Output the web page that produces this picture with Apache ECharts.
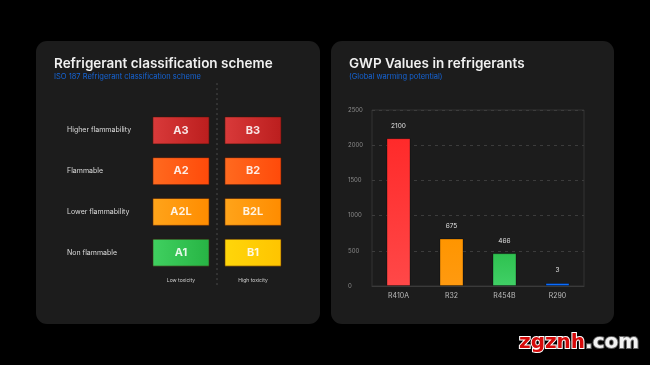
<!DOCTYPE html>
<html><head><meta charset="utf-8">
<script src="https://cdn.jsdelivr.net/npm/echarts@6/dist/echarts.min.js"></script>
<style>html,body{margin:0;padding:0;background:#000}#c{width:650px;height:365px}</style>
</head><body><div id="c"></div>
<script>
// ---- data ----
const toxicityCats = ['Low toxicity', 'High toxicity'];
const flammabilityCats = ['Non flammable', 'Lower flammability', 'Flammable', 'Higher flammability'];
const classLow = ['A1', 'A2L', 'A2', 'A3'];
const classHigh = ['B1', 'B2L', 'B2', 'B3'];
const refrigerants = ['R410A', 'R32', 'R454B', 'R290'];
const gwpValues = [2100, 675, 466, 3];
const gwpTicks = [0, 500, 1000, 1500, 2000, 2500];

// ---- styles ----
const cellColors = {
  A3: ['#d93a3a', '#bb1e1e'], B3: ['#d93a3a', '#bb1e1e'],
  A2: ['#ff6a1f', '#ff4a0a'], B2: ['#ff6a1f', '#ff4a0a'],
  A2L: ['#ffa41a', '#ff8c00'], B2L: ['#ffa41a', '#ff8c00'],
  A1: ['#40d060', '#27b444'], B1: ['#ffd60a', '#ffc400']
};
const barColors = [['#ff2a2a', '#ff4848'], ['#ff9500', '#ff9a10'], ['#2fc150', '#40d066'], ['#0a6cff', '#0a6cff']];

const cellData = [];
classLow.forEach((c, i) => cellData.push([0, i, c]));
classHigh.forEach((c, i) => cellData.push([1, i, c]));

const lg = (c) => new echarts.graphic.LinearGradient(0, 0, 1, 0, [{offset: 0, color: c[0]}, {offset: 1, color: c[1]}]);
const vg = (c) => new echarts.graphic.LinearGradient(0, 0, 0, 1, [{offset: 0, color: c[0]}, {offset: 1, color: c[1]}]);

const chart = echarts.init(document.getElementById('c'), null, {renderer: 'canvas'});
const FONT = 'Inter, "Noto Sans", sans-serif';

chart.setOption({
  backgroundColor: '#000',
  animation: false,
  textStyle: {fontFamily: FONT},
  graphic: [
    {type: 'rect', z: -10, shape: {x: 36, y: 41, width: 284, height: 283, r: 11}, style: {fill: '#1c1c1c'}},
    {type: 'rect', z: -10, shape: {x: 331, y: 41, width: 283, height: 283, r: 11}, style: {fill: '#1c1c1c'}},
    {type: 'text', z: 10, left: 518, top: 332, style: {
      text: '{a|zgznh}{b|.com}', font: '900 20px "DejaVu Sans", sans-serif',
      rich: {
        a: {fill: '#d60a0a', stroke: '#ffffff', lineWidth: 2, fontSize: 20, fontWeight: 900, fontFamily: '"DejaVu Sans", sans-serif'},
        b: {fill: '#f2f2f2', stroke: '#666', lineWidth: 2, fontSize: 20, fontWeight: 900, fontFamily: '"DejaVu Sans", sans-serif'}
      }
    }}
  ],
  title: [
    {text: 'Refrigerant classification scheme', subtext: 'ISO 187 Refrigerant classification scheme',
     left: 54, top: 57, itemGap: 2, padding: 0,
     textStyle: {color: '#f0f0f0', fontSize: 13.5, fontWeight: 600, fontFamily: FONT},
     subtextStyle: {color: '#1565d8', fontSize: 7.5, fontFamily: FONT}},
    {text: 'GWP Values in refrigerants', subtext: '(Global warming potential)',
     left: 349, top: 57, itemGap: 2, padding: 0,
     textStyle: {color: '#f0f0f0', fontSize: 13.5, fontWeight: 600, fontFamily: FONT},
     subtextStyle: {color: '#1565d8', fontSize: 7.5, fontFamily: FONT}}
  ],
  grid: [
    {left: 145, right: 361, top: 110, bottom: 92},
    {left: 372, right: 66, top: 110, bottom: 79, show: true, borderColor: '#333', borderWidth: 1, backgroundColor: 'transparent'}
  ],
  xAxis: [
    {type: 'category', gridIndex: 0, data: toxicityCats, axisLine: {show: false}, axisTick: {show: false},
     axisLabel: {color: '#cfcfcf', fontSize: 5, margin: 5}},
    {type: 'category', gridIndex: 1, data: refrigerants, axisLine: {show: true, lineStyle: {color: '#3a3a3a'}}, axisTick: {show: false},
     axisLabel: {color: '#bdbdbd', fontSize: 7, margin: 6}},
    {type: 'value', gridIndex: 0, min: 0, max: 2, show: false}
  ],
  yAxis: [
    {type: 'category', gridIndex: 0, data: flammabilityCats, axisLine: {show: false}, axisTick: {show: false},
     axisLabel: {color: '#dcdcdc', fontSize: 7, align: 'left', margin: 78}},
    {type: 'value', gridIndex: 1, min: gwpTicks[0], max: gwpTicks[gwpTicks.length - 1], interval: 500,
     axisLine: {show: false}, axisTick: {show: false},
     axisLabel: {color: '#8a8a8a', fontSize: 6, align: 'left', margin: 24, formatter: (v) => String(v)},
     splitLine: {show: true, lineStyle: {color: '#3c3c3c', type: [3, 4], width: 1}}},
    {type: 'value', gridIndex: 0, min: 0, max: 1, show: false}
  ],
  series: [
    {type: 'line', xAxisIndex: 2, yAxisIndex: 2, clip: false, symbol: 'none', silent: true,
     data: [[1, -0.074], [1, 1.166]], lineStyle: {color: '#4a4a4a', width: 1, type: [2, 3]}},
    {type: 'custom', xAxisIndex: 0, yAxisIndex: 0, data: cellData,
     renderItem: function (params, api) {
       const p = api.coord([api.value(0), api.value(1)]);
       const s = api.size([1, 1]);
       const w = s[0] * 0.78, h = 27;
       const name = cellData[params.dataIndex][2];
       return {
         type: 'group', children: [
           {type: 'rect', shape: {x: p[0] - w / 2, y: p[1] - h / 2, width: w, height: h},
            style: {fill: lg(cellColors[name]), stroke: 'rgba(60,20,10,0.55)', lineWidth: 1}},
           {type: 'text', style: {text: name, x: p[0], y: p[1], align: 'center', verticalAlign: 'middle',
             fill: 'rgba(255,255,255,0.88)', font: '700 11px ' + FONT}}
         ]
       };
     }},
    {type: 'bar', xAxisIndex: 1, yAxisIndex: 1, barWidth: 24, barMinHeight: 3,
     data: gwpValues.map((v, i) => ({value: v, itemStyle: {color: vg(barColors[i]), borderColor: 'rgba(0,0,0,0.3)', borderWidth: 1}})),
     label: {show: true, position: 'top', distance: 9, color: '#e0e0e0', fontSize: 6.5, fontFamily: FONT}}
  ]
});
</script></body></html>
